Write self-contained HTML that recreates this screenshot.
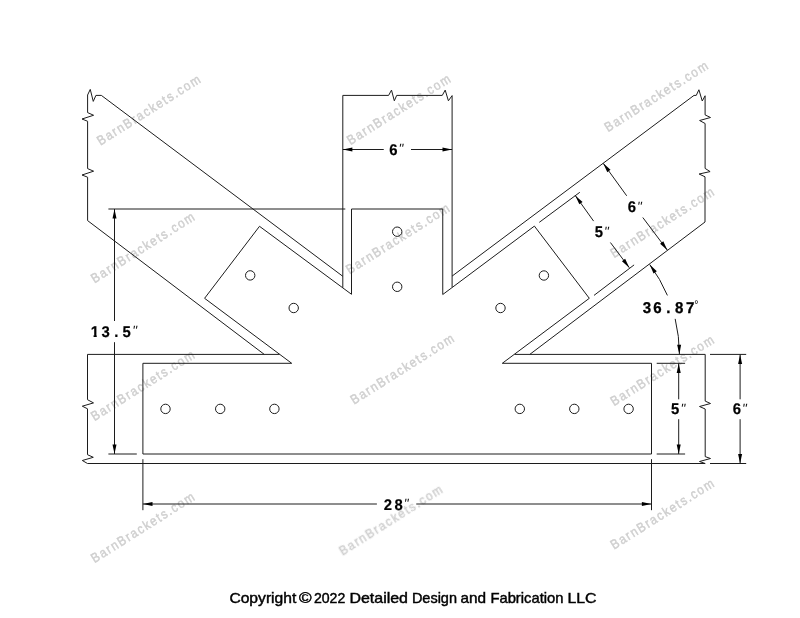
<!DOCTYPE html>
<html><head><meta charset="utf-8"><title>Bracket drawing</title>
<style>
html,body{margin:0;padding:0;background:#fff;}
svg{display:block;}
.g line,.g path,.g circle{fill:none;stroke:#1c1c1c;stroke-width:1.0;}
.f polygon{fill:#000;stroke:none;}
text{font-family:"Liberation Sans",sans-serif;}
.d{text-rendering:geometricPrecision;font-weight:bold;text-anchor:middle;fill:#000;stroke:#000;stroke-width:0.2;}
.b{stroke:#000;stroke-width:0.3;}
.q{text-rendering:geometricPrecision;font-style:italic;font-size:13.5px;text-anchor:middle;fill:#111;}
.deg{text-anchor:middle;fill:#000;}
.c{font-size:14.6px;fill:#000;stroke:#000;stroke-width:0.45;}
.w{font-family:"Liberation Sans",sans-serif;font-size:13.4px;fill:#cfcfcf;stroke:#cfcfcf;stroke-width:0.45;}
</style></head>
<body>
<svg width="800" height="618" viewBox="0 0 800 618">
<rect width="800" height="618" fill="#fff"/>
<g class="wm" opacity="0.999">
<text transform="translate(100.5,145.8) rotate(-32.3) scale(0.88,1)" class="w" textLength="135.8" lengthAdjust="spacing">BarnBrackets.com</text>
<text transform="translate(350.5,145.3) rotate(-32.3) scale(0.88,1)" class="w" textLength="135.8" lengthAdjust="spacing">BarnBrackets.com</text>
<text transform="translate(608.0,132.2) rotate(-32.3) scale(0.88,1)" class="w" textLength="135.8" lengthAdjust="spacing">BarnBrackets.com</text>
<text transform="translate(94.6,283.4) rotate(-32.3) scale(0.88,1)" class="w" textLength="135.8" lengthAdjust="spacing">BarnBrackets.com</text>
<text transform="translate(349.5,274.6) rotate(-32.3) scale(0.88,1)" class="w" textLength="135.8" lengthAdjust="spacing">BarnBrackets.com</text>
<text transform="translate(614.0,258.3) rotate(-32.3) scale(0.88,1)" class="w" textLength="135.8" lengthAdjust="spacing">BarnBrackets.com</text>
<text transform="translate(94.5,421.3) rotate(-32.3) scale(0.88,1)" class="w" textLength="135.8" lengthAdjust="spacing">BarnBrackets.com</text>
<text transform="translate(354.0,404.8) rotate(-32.3) scale(0.88,1)" class="w" textLength="135.8" lengthAdjust="spacing">BarnBrackets.com</text>
<text transform="translate(614.0,406.3) rotate(-32.3) scale(0.88,1)" class="w" textLength="135.8" lengthAdjust="spacing">BarnBrackets.com</text>
<text transform="translate(94.5,563.3) rotate(-32.3) scale(0.88,1)" class="w" textLength="135.8" lengthAdjust="spacing">BarnBrackets.com</text>
<text transform="translate(342.5,555.8) rotate(-32.3) scale(0.88,1)" class="w" textLength="135.8" lengthAdjust="spacing">BarnBrackets.com</text>
<text transform="translate(614.0,549.8) rotate(-32.3) scale(0.88,1)" class="w" textLength="135.8" lengthAdjust="spacing">BarnBrackets.com</text>
</g>
<g class="g">
<path d="M142.90,454.00 L651.50,454.00 L651.50,363.30 L502.30,363.30 L589.30,298.30 L534.40,226.10 L442.75,294.50 L442.75,209.00 L351.50,209.00 L351.50,294.30 L259.50,226.30 L204.60,298.30 L291.70,363.30 L142.90,363.30 Z"/>
<circle cx="165.5" cy="408.9" r="4.7"/>
<circle cx="220.2" cy="408.9" r="4.7"/>
<circle cx="274.4" cy="408.9" r="4.7"/>
<circle cx="519.8" cy="408.9" r="4.7"/>
<circle cx="574.3" cy="408.9" r="4.7"/>
<circle cx="628.6" cy="408.9" r="4.7"/>
<circle cx="250.2" cy="275.4" r="4.7"/>
<circle cx="293.7" cy="308.0" r="4.7"/>
<circle cx="543.9" cy="275.5" r="4.7"/>
<circle cx="500.5" cy="308.0" r="4.7"/>
<circle cx="397.2" cy="231.7" r="4.7"/>
<circle cx="397.2" cy="286.8" r="4.7"/>
<path d="M342.80,287.70 L342.80,95.40 L388.60,95.40 L391.50,90.10 L394.30,100.80 L396.70,95.40 L442.25,95.40 L445.20,90.10 L448.40,100.80 L452.10,95.60 L452.10,287.20"/>
<path d="M342.80,276.30 L101.35,95.40 L95.90,95.40 L93.25,101.40 L90.25,89.40 L87.60,95.00 L87.60,112.60 L93.60,115.25 L82.00,119.00 L87.60,121.25 L87.60,168.60 L93.60,171.20 L82.00,175.00 L87.60,177.20 L87.60,220.60 L264.20,354.35"/>
<path d="M452.10,276.10 L694.00,95.40 L696.25,95.40 L698.90,89.75 L702.25,101.00 L705.10,95.75 L705.10,114.90 L710.50,117.50 L699.60,120.50 L705.10,123.50 L705.10,168.40 L710.10,171.60 L699.10,174.00 L705.00,176.80 L705.00,222.00 L529.85,354.35"/>
<path d="M279.60,354.40 L87.50,354.40 L87.50,399.70 L93.50,402.90 L82.30,406.20 L87.50,408.80 L87.50,454.70 L93.30,457.30 L82.30,460.50 L87.50,463.50 L705.20,463.50 L699.50,461.50 L710.50,458.50 L705.20,456.60 L705.20,409.00 L699.50,406.50 L710.50,403.50 L705.20,401.10 L705.20,354.40 L514.60,354.40"/>
<line x1="108.40" y1="209.00" x2="345.30" y2="209.00"/>
<line x1="108.40" y1="454.00" x2="136.80" y2="454.00"/>
<line x1="114.50" y1="209.00" x2="114.50" y2="321.00"/>
<line x1="114.50" y1="342.20" x2="114.50" y2="454.00"/>
<line x1="342.80" y1="149.50" x2="383.75" y2="149.50"/>
<line x1="411.00" y1="149.50" x2="452.10" y2="149.50"/>
<line x1="142.90" y1="459.20" x2="142.90" y2="510.20"/>
<line x1="651.50" y1="459.20" x2="651.50" y2="510.20"/>
<line x1="142.90" y1="504.00" x2="376.90" y2="504.00"/>
<line x1="416.25" y1="504.00" x2="651.50" y2="504.00"/>
<line x1="656.70" y1="363.30" x2="685.10" y2="363.30"/>
<line x1="656.70" y1="454.00" x2="685.10" y2="454.00"/>
<line x1="678.70" y1="363.30" x2="678.70" y2="399.30"/>
<line x1="678.70" y1="419.20" x2="678.70" y2="454.00"/>
<line x1="710.00" y1="354.40" x2="746.20" y2="354.40"/>
<line x1="710.00" y1="463.50" x2="746.20" y2="463.50"/>
<line x1="740.10" y1="354.40" x2="740.10" y2="399.30"/>
<line x1="740.10" y1="419.20" x2="740.10" y2="463.50"/>
<line x1="603.20" y1="163.30" x2="626.70" y2="195.80"/>
<line x1="642.80" y1="217.50" x2="667.40" y2="250.20"/>
<line x1="575.20" y1="195.40" x2="593.60" y2="221.10"/>
<line x1="610.40" y1="242.50" x2="629.30" y2="267.70"/>
<line x1="539.25" y1="222.35" x2="579.80" y2="192.30"/>
<line x1="594.00" y1="295.40" x2="634.10" y2="264.90"/>
<path d="M649.68,264.45 A150.7,150.7 0 0 1 667.42,295.42"/>
<path d="M675.17,318.86 A150.7,150.7 0 0 1 679.40,354.30"/>
</g>
<g class="f">
<polygon points="114.50,209.00 116.50,218.60 112.50,218.60"/>
<polygon points="114.50,454.00 112.50,444.40 116.50,444.40"/>
<polygon points="342.80,149.50 352.40,147.50 352.40,151.50"/>
<polygon points="452.10,149.50 442.50,151.50 442.50,147.50"/>
<polygon points="142.90,504.00 152.50,502.00 152.50,506.00"/>
<polygon points="651.50,504.00 641.90,506.00 641.90,502.00"/>
<polygon points="678.70,363.30 680.70,372.90 676.70,372.90"/>
<polygon points="678.70,454.00 676.70,444.40 680.70,444.40"/>
<polygon points="740.10,354.40 742.10,364.00 738.10,364.00"/>
<polygon points="740.10,463.50 738.10,453.90 742.10,453.90"/>
<polygon points="603.20,163.30 610.51,169.83 607.30,172.21"/>
<polygon points="667.40,250.20 660.09,243.67 663.30,241.29"/>
<polygon points="575.20,195.40 582.55,201.89 579.35,204.28"/>
<polygon points="629.30,267.70 621.95,261.21 625.15,258.82"/>
<polygon points="649.68,264.45 656.82,271.18 653.54,273.47"/>
<polygon points="679.40,354.30 677.12,344.76 681.11,344.64"/>
</g>
<g class="t" opacity="0.999">
<clipPath id="c1"><path d="M-8,-15 H8 V-2.58 H2.03 V1 H-1.29 V-2.58 H-8 Z"/></clipPath>
<text transform="translate(94.80,337.30) scale(0.96,1)" font-size="15.5" class="d" clip-path="url(#c1)">1</text>
<text transform="translate(105.65,337.30) scale(0.96,1)" font-size="15.5" class="d">3</text>
<text transform="translate(116.25,337.30) scale(0.96,1)" font-size="15.5" class="d">.</text>
<text transform="translate(126.75,337.30) scale(0.96,1)" font-size="15.5" class="d">5</text>
<text x="134.60" y="335.10" class="q">&quot;</text>
<text transform="translate(393.50,154.80) scale(0.96,1)" font-size="15.5" class="d">6</text>
<text x="400.90" y="153.10" class="q">&quot;</text>
<text transform="translate(387.80,509.80) scale(0.96,1)" font-size="15.5" class="d">2</text>
<text transform="translate(398.60,509.80) scale(0.96,1)" font-size="15.5" class="d">8</text>
<text x="406.15" y="507.90" class="q">&quot;</text>
<text transform="translate(675.20,414.10) scale(0.96,1)" font-size="15.5" class="d">5</text>
<text x="682.90" y="413.10" class="q">&quot;</text>
<text transform="translate(736.80,414.10) scale(0.96,1)" font-size="15.5" class="d">6</text>
<text x="744.50" y="413.10" class="q">&quot;</text>
<text transform="translate(631.85,212.40) scale(0.96,1)" font-size="15.5" class="d">6</text>
<text x="639.40" y="210.80" class="q">&quot;</text>
<text transform="translate(598.80,237.40) scale(0.96,1)" font-size="15.5" class="d">5</text>
<text x="606.40" y="235.70" class="q">&quot;</text>
<text transform="translate(646.90,313.40) scale(0.96,1)" font-size="15.7" class="d b">3</text>
<text transform="translate(657.50,313.40) scale(0.96,1)" font-size="15.7" class="d b">6</text>
<text transform="translate(668.40,313.40) scale(0.96,1)" font-size="15.7" class="d b">.</text>
<text transform="translate(679.25,313.40) scale(0.96,1)" font-size="15.7" class="d b">8</text>
<text transform="translate(690.20,313.40) scale(0.96,1)" font-size="15.7" class="d b">7</text>
<text x="696.4" y="307.6" font-size="10.5" class="deg">°</text>
<text x="229.4" y="603" class="c" textLength="66.9" lengthAdjust="spacingAndGlyphs">Copyright</text>
<text x="298.9" y="603" class="c" textLength="12.6" lengthAdjust="spacingAndGlyphs">©</text>
<text x="313.9" y="603" class="c" textLength="31.4" lengthAdjust="spacingAndGlyphs">2022</text>
<text x="349.4" y="603" class="c" textLength="58.6" lengthAdjust="spacingAndGlyphs">Detailed</text>
<text x="411.9" y="603" class="c" textLength="45.1" lengthAdjust="spacingAndGlyphs">Design</text>
<text x="460.4" y="603" class="c" textLength="25.6" lengthAdjust="spacingAndGlyphs">and</text>
<text x="490.4" y="603" class="c" textLength="73.1" lengthAdjust="spacingAndGlyphs">Fabrication</text>
<text x="567.4" y="603" class="c" textLength="29.1" lengthAdjust="spacingAndGlyphs">LLC</text>
</g>
</svg>
</body></html>
